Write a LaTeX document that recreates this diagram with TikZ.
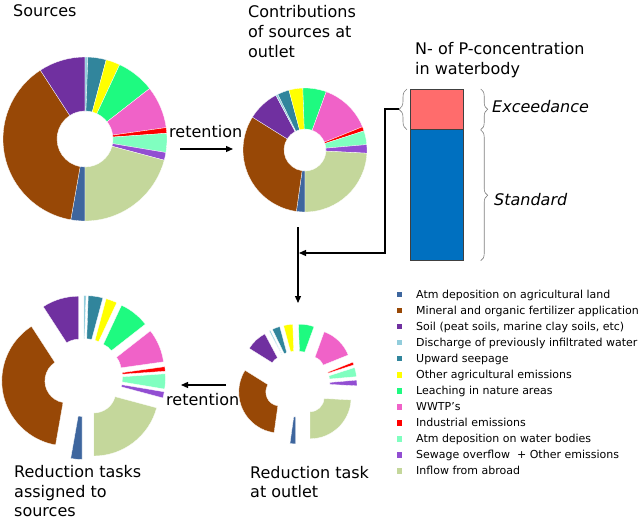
\documentclass[tikz,border=0pt]{standalone}
\usepackage{fontspec}
\setmainfont{DejaVu Sans}
\usetikzlibrary{arrows.meta,decorations.pathreplacing}
\definecolor{cAtmAg}{RGB}{62,102,158}
\definecolor{cFert}{RGB}{152,72,6}
\definecolor{cSoil}{RGB}{112,48,160}
\definecolor{cDisch}{RGB}{146,205,220}
\definecolor{cSeep}{RGB}{49,133,156}
\definecolor{cOther}{RGB}{255,255,0}
\definecolor{cLeach}{RGB}{30,250,128}
\definecolor{cWWTP}{RGB}{240,98,200}
\definecolor{cInd}{RGB}{255,0,0}
\definecolor{cAtmW}{RGB}{128,255,192}
\definecolor{cSew}{RGB}{146,78,210}
\definecolor{cInflow}{RGB}{196,215,155}
\definecolor{barPink}{RGB}{255,108,108}
\definecolor{barBlue}{RGB}{0,112,192}
\definecolor{barEdge}{RGB}{64,64,64}
% #1 cx, #2 cy, #3 inner r, #4 outer r, #5 explosion offset, #6 list colour/start/end
\newcommand{\donutchart}[6]{%
  \foreach \col/\angA/\angB in {#6}{%
    \pgfmathsetmacro{\midang}{(\angA+\angB)/2}%
    \fill[\col, draw=white, line width=0.3pt, shift={(\midang:#5)}]
      (#1,#2) ++(\angA:#4) arc[start angle=\angA, end angle=\angB, radius=#4]
      -- ++({\angB+180}:{#4-#3}) arc[start angle=\angB, end angle=\angA, radius=#3] -- cycle;
  }}
\begin{document}
\begin{tikzpicture}[x=1pt,y=1pt,
  title/.style={font=\fontsize{16}{20}\selectfont, anchor=base west, inner sep=0pt},
  ital/.style={font=\fontsize{16}{20}\selectfont\itshape, anchor=base west, inner sep=0pt},
  legtxt/.style={font=\fontsize{11}{13}\selectfont, anchor=base west, inner sep=0pt},
  legsq/.style={minimum size=5.5pt, inner sep=0pt, draw=none},
  barseg/.style={draw=barEdge, line width=0.7pt, minimum width=53pt, inner sep=0pt, anchor=north west},
  brc/.style={decorate, decoration={brace, amplitude=#1}, draw=gray, line width=0.6pt},
  arr/.style={-{Triangle[length=7pt,width=6pt]}, line width=1.2pt, black}]
\useasboundingbox (0,-524) rectangle (640,0);

% donut centres
\coordinate (srcC) at (85,-139);
\coordinate (outC) at (305,-150);
\coordinate (redSrcC) at (83.5,-377.5);
\coordinate (redOutC) at (297,-384);

% Sources donut
\donutchart{85}{-139}{28}{82}{0}{cAtmAg/260/270, cFert/123/260, cSoil/90/123, cDisch/88/90, cSeep/75/88, cOther/65/75, cLeach/38/65, cWWTP/8/38, cInd/4/8, cAtmW/-9.5/4, cSew/-15/-9.5, cInflow/-90/-15}
% Contributions at outlet
\donutchart{305}{-150}{21}{62}{0}{cAtmAg/262/270, cFert/148/262, cSoil/118/148, cDisch/116/118, cSeep/105/116, cOther/92/105, cLeach/70/92, cWWTP/22/70, cInd/18/22, cAtmW/5/18, cSew/-3/5, cInflow/-90/-3}
% Reduction tasks assigned to sources (exploded)
\donutchart{83.5}{-377.5}{22}{65}{17}{cAtmAg/260/270, cFert/123/260, cSoil/90/123, cDisch/88/90, cSeep/75/88, cOther/65/75, cLeach/38/65, cWWTP/8/38, cInd/4/8, cAtmW/-9.5/4, cSew/-15/-9.5, cInflow/-90/-15}
% Reduction task at outlet (exploded)
\donutchart{297}{-384}{14}{41}{19}{cAtmAg/262/270, cFert/148/262, cSoil/118/148, cDisch/116/118, cSeep/105/116, cOther/92/105, cLeach/70/92, cWWTP/22/70, cInd/18/22, cAtmW/5/18, cSew/-3/5, cInflow/-90/-3}

% titles
\node[title] (tSrc) at (13,-17) {Sources};
\node[title] (tCon1) at (248,-18) {Contributions};
\node[title] (tCon2) at (248,-38) {of sources at};
\node[title] (tCon3) at (248,-58) {outlet};
\node[title] (tN1) at (415,-55) {N- of P-concentration};
\node[title] (tN2) at (415,-75) {in waterbody};
\node[title] (tRed1) at (14,-477) {Reduction tasks};
\node[title] (tRed2) at (14,-497) {assigned to};
\node[title] (tRed3) at (14,-516) {sources};
\node[title] (tRo1) at (250,-478) {Reduction task};
\node[title] (tRo2) at (250,-497) {at outlet};

% bar
\node[barseg, fill=barPink, minimum height=40pt] (exc) at (410,-89) {};
\node[barseg, fill=barBlue, minimum height=131pt] (std) at (410,-129) {};

% braces
\draw[brc=8pt] ([xshift=-3pt]exc.south west) -- ([xshift=-3pt]exc.north west);
\draw[brc=7pt] ([xshift=17pt]exc.north east) -- ([xshift=17pt]exc.south east);
\draw[brc=7pt] ([xshift=17pt,yshift=-1pt]std.north east) -- ([xshift=17pt]std.south east);
\node[ital] (tExc) at (492,-113) {Exceedance};
\node[ital] (tStd) at (494,-205) {Standard};

% retention arrows
\node[title] (tRet1) at (169,-138) {retention};
\node[title] (tRet2) at (166,-405) {retention};
\coordinate (r1a) at (180,-149);
\coordinate (r1b) at (233,-149);
\coordinate (r2a) at (226,-385);
\coordinate (r2b) at (181,-385);
\draw[arr] (r1a) -- (r1b);
\draw[arr] (r2a) -- (r2b);

% vertical arrow and elbow connector from the bar
\coordinate (vTop) at (298,-227);
\coordinate (vBot) at (298,-303);
\coordinate (brTip) at (399,-109);
\coordinate (elb) at (385,-109);
\coordinate (vJoin) at (299,-253);
\draw[arr] (vTop) -- (vBot);
\draw[arr] (brTip) -- (elb) |- (vJoin);

% legend
\foreach \i/\col/\txt in {
  1/cAtmAg/{Atm deposition on agricultural land},
  2/cFert/{Mineral and organic fertilizer application},
  3/cSoil/{Soil (peat soils, marine clay soils, etc)},
  4/cDisch/{Discharge of previously infiltrated water},
  5/cSeep/{Upward seepage},
  6/cOther/{Other agricultural emissions},
  7/cLeach/{Leaching in nature areas},
  8/cWWTP/{WWTP’s},
  9/cInd/{Industrial emissions},
  10/cAtmW/{Atm deposition on water bodies},
  11/cSew/{Sewage overflow\ \ + Other emissions},
  12/cInflow/{Inflow from abroad}}{%
  \node[legsq, fill=\col] (sq\i) at (399.3,{-294.5-16.05*(\i-1)}) {};
  \node[legtxt] (lg\i) at (416,{-298.3-16.05*(\i-1)}) {\txt};
}
\end{tikzpicture}
\end{document}
